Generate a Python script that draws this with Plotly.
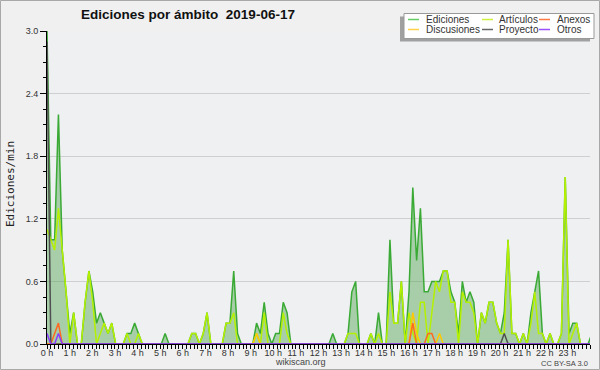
import plotly.graph_objects as go

# ---------------- data (edits per minute, 10-minute bins, 2019-06-17) ----------------
MINUTES = list(range(0, 1440, 10))          # start of each 10-minute bin

EDICIONES = [
    3.0, 1.0, 1.0, 2.2, 0.9, 0.5,   # 0 h
    0.1, 0.3, 0.0, 0.0, 0.4, 0.7,   # 1 h
    0.5, 0.2, 0.3, 0.2, 0.1, 0.2,   # 2 h
    0.0, 0.0, 0.0, 0.1, 0.1, 0.2,   # 3 h
    0.1, 0.0, 0.0, 0.0, 0.0, 0.0,   # 4 h
    0.0, 0.1, 0.0, 0.0, 0.0, 0.0,   # 5 h
    0.0, 0.0, 0.1, 0.1, 0.0, 0.1,   # 6 h
    0.3, 0.0, 0.0, 0.0, 0.0, 0.2,   # 7 h
    0.2, 0.7, 0.1, 0.0, 0.0, 0.0,   # 8 h
    0.0, 0.2, 0.1, 0.4, 0.1, 0.0,   # 9 h
    0.1, 0.1, 0.4, 0.3, 0.0, 0.0,   # 10 h
    0.0, 0.0, 0.0, 0.0, 0.0, 0.0,   # 11 h
    0.0, 0.0, 0.0, 0.1, 0.0, 0.0,   # 12 h
    0.0, 0.1, 0.5, 0.6, 0.0, 0.0,   # 13 h
    0.0, 0.1, 0.0, 0.3, 0.0, 0.0,   # 14 h
    1.0, 0.2, 0.2, 0.6, 0.0, 0.5,   # 15 h
    1.5, 0.8, 1.3, 0.5, 0.5, 0.6,   # 16 h
    0.6, 0.6, 0.7, 0.7, 0.5, 0.4,   # 17 h
    0.1, 0.6, 0.4, 0.5, 0.4, 0.0,   # 18 h
    0.3, 0.2, 0.4, 0.4, 0.2, 0.1,   # 19 h
    0.3, 1.0, 0.1, 0.1, 0.0, 0.1,   # 20 h
    0.0, 0.3, 0.5, 0.7, 0.1, 0.0,   # 21 h
    0.1, 0.0, 0.0, 0.1, 1.6, 0.1,   # 22 h
    0.2, 0.2, 0.0, 0.0, 0.0, 0.1,   # 23 h
]

ARTICULOS = [
    1.1, 1.0, 0.9, 1.3, 0.9, 0.5,
    0.0, 0.3, 0.0, 0.0, 0.4, 0.7,
    0.4, 0.0, 0.1, 0.2, 0.1, 0.2,
    0.0, 0.0, 0.0, 0.1, 0.0, 0.0,
    0.1, 0.0, 0.0, 0.0, 0.0, 0.0,
    0.0, 0.0, 0.0, 0.0, 0.0, 0.0,
    0.0, 0.0, 0.1, 0.1, 0.0, 0.1,
    0.3, 0.0, 0.0, 0.0, 0.0, 0.2,
    0.2, 0.3, 0.0, 0.0, 0.0, 0.0,
    0.0, 0.1, 0.0, 0.3, 0.0, 0.0,
    0.0, 0.0, 0.3, 0.1, 0.0, 0.0,
    0.0, 0.0, 0.0, 0.0, 0.0, 0.0,
    0.0, 0.0, 0.0, 0.0, 0.0, 0.0,
    0.0, 0.1, 0.1, 0.1, 0.0, 0.0,
    0.0, 0.1, 0.0, 0.1, 0.0, 0.0,
    0.5, 0.2, 0.2, 0.6, 0.0, 0.3,
    0.1, 0.0, 0.4, 0.4, 0.0, 0.3,
    0.6, 0.5, 0.7, 0.7, 0.4, 0.4,
    0.0, 0.5, 0.4, 0.4, 0.3, 0.0,
    0.3, 0.2, 0.4, 0.4, 0.2, 0.1,
    0.1, 1.0, 0.1, 0.1, 0.0, 0.1,
    0.0, 0.2, 0.5, 0.1, 0.1, 0.0,
    0.1, 0.0, 0.0, 0.1, 1.6, 0.0,
    0.1, 0.2, 0.0, 0.0, 0.0, 0.0,
]

ANEXOS = [
    0.0, 0.0, 0.1, 0.2, 0.0, 0.0,
    0.0, 0.0, 0.0, 0.0, 0.0, 0.0,
    0.0, 0.0, 0.0, 0.0, 0.0, 0.0,
    0.0, 0.0, 0.0, 0.0, 0.0, 0.0,
    0.0, 0.0, 0.0, 0.0, 0.0, 0.0,
    0.0, 0.0, 0.0, 0.0, 0.0, 0.0,
    0.0, 0.0, 0.0, 0.0, 0.0, 0.0,
    0.0, 0.0, 0.0, 0.0, 0.0, 0.0,
    0.0, 0.0, 0.0, 0.0, 0.0, 0.0,
    0.0, 0.0, 0.0, 0.0, 0.0, 0.0,
    0.0, 0.0, 0.0, 0.0, 0.0, 0.0,
    0.0, 0.0, 0.0, 0.0, 0.0, 0.0,
    0.0, 0.0, 0.0, 0.0, 0.0, 0.0,
    0.0, 0.0, 0.0, 0.0, 0.0, 0.0,
    0.0, 0.0, 0.0, 0.0, 0.0, 0.0,
    0.0, 0.0, 0.0, 0.0, 0.0, 0.0,
    0.2, 0.0, 0.0, 0.0, 0.1, 0.1,
    0.0, 0.0, 0.0, 0.0, 0.0, 0.0,
    0.0, 0.0, 0.0, 0.0, 0.0, 0.0,
    0.0, 0.0, 0.0, 0.0, 0.0, 0.0,
    0.0, 0.0, 0.0, 0.0, 0.0, 0.0,
    0.0, 0.0, 0.0, 0.0, 0.0, 0.0,
    0.0, 0.0, 0.0, 0.0, 0.0, 0.0,
    0.0, 0.0, 0.0, 0.0, 0.0, 0.0,
]

DISCUSIONES = [
    0.0, 0.0, 0.0, 0.0, 0.0, 0.0,
    0.0, 0.0, 0.0, 0.0, 0.0, 0.0,
    0.0, 0.0, 0.0, 0.0, 0.0, 0.0,
    0.0, 0.0, 0.0, 0.0, 0.0, 0.0,
    0.0, 0.0, 0.0, 0.0, 0.0, 0.0,
    0.0, 0.0, 0.0, 0.0, 0.0, 0.0,
    0.0, 0.0, 0.0, 0.0, 0.0, 0.0,
    0.0, 0.0, 0.0, 0.0, 0.0, 0.0,
    0.0, 0.0, 0.0, 0.0, 0.0, 0.0,
    0.0, 0.1, 0.0, 0.0, 0.0, 0.0,
    0.0, 0.0, 0.0, 0.0, 0.0, 0.0,
    0.0, 0.0, 0.0, 0.0, 0.0, 0.0,
    0.0, 0.0, 0.0, 0.0, 0.0, 0.0,
    0.0, 0.0, 0.0, 0.0, 0.0, 0.0,
    0.0, 0.0, 0.0, 0.0, 0.0, 0.0,
    0.0, 0.0, 0.0, 0.0, 0.0, 0.0,
    0.3, 0.1, 0.0, 0.0, 0.0, 0.0,
    0.0, 0.1, 0.0, 0.0, 0.0, 0.0,
    0.0, 0.0, 0.0, 0.0, 0.0, 0.0,
    0.0, 0.0, 0.0, 0.0, 0.0, 0.0,
    0.0, 0.0, 0.0, 0.0, 0.0, 0.0,
    0.0, 0.0, 0.0, 0.0, 0.0, 0.0,
    0.0, 0.0, 0.0, 0.0, 0.0, 0.0,
    0.0, 0.0, 0.0, 0.0, 0.0, 0.0,
]

PROYECTO = [
    2.9, 0.0, 0.0, 0.0, 0.0, 0.0,
    0.0, 0.0, 0.0, 0.0, 0.0, 0.0,
    0.0, 0.0, 0.0, 0.0, 0.0, 0.0,
    0.0, 0.0, 0.0, 0.0, 0.0, 0.0,
    0.0, 0.0, 0.0, 0.0, 0.0, 0.0,
    0.0, 0.0, 0.0, 0.0, 0.0, 0.0,
    0.0, 0.0, 0.0, 0.0, 0.0, 0.0,
    0.0, 0.0, 0.0, 0.0, 0.0, 0.0,
    0.0, 0.0, 0.0, 0.0, 0.0, 0.0,
    0.0, 0.0, 0.0, 0.0, 0.0, 0.0,
    0.0, 0.0, 0.0, 0.0, 0.0, 0.0,
    0.0, 0.0, 0.0, 0.0, 0.0, 0.0,
    0.0, 0.0, 0.0, 0.0, 0.0, 0.0,
    0.0, 0.0, 0.0, 0.0, 0.0, 0.0,
    0.0, 0.0, 0.0, 0.0, 0.0, 0.0,
    0.0, 0.0, 0.0, 0.0, 0.0, 0.0,
    0.0, 0.0, 0.0, 0.0, 0.0, 0.0,
    0.0, 0.0, 0.0, 0.0, 0.0, 0.0,
    0.0, 0.0, 0.0, 0.0, 0.0, 0.0,
    0.0, 0.0, 0.0, 0.0, 0.0, 0.0,
    0.1, 0.0, 0.0, 0.0, 0.0, 0.0,
    0.0, 0.0, 0.0, 0.0, 0.0, 0.0,
    0.0, 0.0, 0.0, 0.0, 0.0, 0.0,
    0.0, 0.0, 0.0, 0.0, 0.0, 0.0,
]

OTROS = [
    0.1, 0.0, 0.0, 0.1, 0.0, 0.0,
    0.0, 0.0, 0.0, 0.0, 0.0, 0.0,
    0.0, 0.0, 0.0, 0.0, 0.0, 0.0,
    0.0, 0.0, 0.0, 0.0, 0.0, 0.0,
    0.0, 0.0, 0.0, 0.0, 0.0, 0.0,
    0.0, 0.0, 0.0, 0.0, 0.0, 0.0,
    0.0, 0.0, 0.0, 0.0, 0.0, 0.0,
    0.0, 0.0, 0.0, 0.0, 0.0, 0.0,
    0.0, 0.0, 0.0, 0.0, 0.0, 0.0,
    0.0, 0.0, 0.0, 0.0, 0.0, 0.0,
    0.0, 0.0, 0.0, 0.0, 0.0, 0.0,
    0.0, 0.0, 0.0, 0.0, 0.0, 0.0,
    0.0, 0.0, 0.0, 0.0, 0.0, 0.0,
    0.0, 0.0, 0.0, 0.0, 0.0, 0.0,
    0.0, 0.0, 0.0, 0.0, 0.0, 0.0,
    0.0, 0.0, 0.0, 0.0, 0.0, 0.0,
    0.0, 0.0, 0.0, 0.0, 0.0, 0.0,
    0.0, 0.0, 0.0, 0.0, 0.0, 0.0,
    0.0, 0.0, 0.0, 0.0, 0.0, 0.0,
    0.0, 0.0, 0.0, 0.0, 0.0, 0.0,
    0.0, 0.0, 0.0, 0.0, 0.0, 0.0,
    0.0, 0.0, 0.0, 0.0, 0.0, 0.0,
    0.0, 0.0, 0.0, 0.0, 0.0, 0.0,
    0.0, 0.0, 0.0, 0.0, 0.0, 0.0,
]

HOUR_TICKS = [0, 60, 120, 180, 240, 300, 360, 420, 480, 540, 600, 660,
              720, 780, 840, 900, 960, 1020, 1080, 1140, 1200, 1260, 1320, 1380]
HOUR_LABELS = ["0 h", "1 h", "2 h", "3 h", "4 h", "5 h", "6 h", "7 h", "8 h", "9 h",
               "10 h", "11 h", "12 h", "13 h", "14 h", "15 h", "16 h", "17 h",
               "18 h", "19 h", "20 h", "21 h", "22 h", "23 h"]
Y_TICKS = [0.0, 0.6, 1.2, 1.8, 2.4, 3.0]

SERIES = [  # name, values, colour (drawing order)
    ("Ediciones", EDICIONES, "#3aaa35"),
    ("Artículos", ARTICULOS, "#b4f000"),
    ("Discusiones", DISCUSIONES, "#ffc800"),
    ("Anexos", ANEXOS, "#ff6a20"),
    ("Proyecto", PROYECTO, "#505050"),
    ("Otros", OTROS, "#8a3cff"),
]
LEGEND_ROWS = [["Ediciones", "Artículos", "Anexos"],
               ["Discusiones", "Proyecto", "Otros"]]
LEGEND_SWATCH = {"Ediciones": "#66cc66", "Artículos": "#ccf03c", "Anexos": "#ff7a45",
                 "Discusiones": "#ffd24a", "Proyecto": "#666666", "Otros": "#9a50ff"}

# ---------------- layout geometry ----------------
W, H = 600, 370
L, R, T, B = 47, 10, 31, 26
PW, PH = W - L - R, H - T - B


def px(x):
    return (x - L) / PW


def py(y):
    return (H - B - y) / PH


FONT = "Liberation Sans, Arial, sans-serif"

fig = go.Figure()
for name, vals, col in SERIES:
    kw = {}
    if name == "Ediciones":
        kw = dict(fill="tozeroy", fillcolor="rgba(70,160,70,0.42)")
    fig.add_trace(go.Scatter(x=MINUTES, y=vals, mode="lines", name=name,
                             line=dict(color=col, width=1.5), showlegend=False,
                             hoverinfo="skip", **kw))
# helper trace for the labelled time axis
fig.add_trace(go.Scatter(x=[], y=[], xaxis="x2", showlegend=False, hoverinfo="skip"))

shapes = [
    # outer frame
    dict(type="rect", xref="paper", yref="paper", x0=px(0.5), x1=px(599.5),
         y0=py(369.5), y1=py(0.5), line=dict(color="#a8a8a8", width=1), layer="below"),
    # legend shadow + box
    dict(type="rect", xref="paper", yref="paper", x0=px(400), x1=px(590),
         y0=py(41.5), y1=py(16.5), fillcolor="#a0a0a0", line=dict(width=0)),
    dict(type="rect", xref="paper", yref="paper", x0=px(404), x1=px(594),
         y0=py(38.5), y1=py(13.5), fillcolor="white", line=dict(color="#999999", width=1)),
]
annotations = []
col_x = [(408, 424), (482, 497), (539, 555)]
row_y = [19.5, 29.5]
for r, row in enumerate(LEGEND_ROWS):
    for c, name in enumerate(row):
        sx, tx = col_x[c]
        yy = row_y[r]
        shapes.append(dict(type="line", xref="paper", yref="paper", x0=px(sx), x1=px(sx + 11),
                           y0=py(yy), y1=py(yy), line=dict(color=LEGEND_SWATCH[name], width=1.5)))
        annotations.append(dict(text=name, xref="paper", yref="paper", x=px(tx), y=py(yy),
                                xanchor="left", yanchor="middle", showarrow=False,
                                font=dict(family=FONT, size=10, color="#333333")))

annotations += [
    dict(text="Ediciones/min", xref="paper", yref="paper", x=px(10), y=py(184),
         textangle=-90, showarrow=False, xanchor="center", yanchor="middle",
         font=dict(family="DejaVu Sans Mono, monospace", size=11, color="#222222")),
    dict(text="wikiscan.org", xref="paper", yref="paper", x=px(300), y=py(362),
         showarrow=False, xanchor="center", yanchor="middle",
         font=dict(family=FONT, size=9, color="#444444")),
    dict(text="CC BY-SA 3.0", xref="paper", yref="paper", x=px(590), y=py(363),
         showarrow=False, xanchor="right", yanchor="middle",
         font=dict(family=FONT, size=7.5, color="#444444")),
]

fig.update_layout(
    width=W, height=H,
    margin=dict(l=L, r=R, t=T, b=B, pad=0),
    paper_bgcolor="#f0f0f0",
    plot_bgcolor="#eef0f2",
    title=dict(text="<b>Ediciones por ámbito \u00a02019-06-17</b>", xref="paper", x=px(188),
               xanchor="center", yref="container", y=1 - 14 / H, yanchor="middle",
               font=dict(family=FONT, size=13.5, color="#111111")),
    xaxis=dict(range=[0, 1425], visible=False, fixedrange=True),
    xaxis2=dict(overlaying="x", side="bottom", range=[0, 1440], tickmode="array",
                tickvals=HOUR_TICKS, ticktext=HOUR_LABELS, ticks="outside", ticklen=4,
                tickcolor="black", tickwidth=1, showgrid=False, zeroline=False,
                showline=True, linecolor="black", linewidth=1, ticklabelstandoff=-4,
                minor=dict(tickmode="linear", tick0=0, dtick=10, ticks="outside",
                           ticklen=4, tickcolor="black", tickwidth=1),
                tickfont=dict(family=FONT, size=9, color="#333333")),
    yaxis=dict(range=[0, 3], tickmode="array", tickvals=Y_TICKS, tickformat=".1f",
               ticks="outside", ticklen=6, tickcolor="black", showline=True,
               linecolor="black", linewidth=1, gridcolor="#cfcfcf", gridwidth=1,
               zeroline=False,
               minor=dict(tickmode="linear", tick0=0, dtick=0.15, ticks="outside",
                          ticklen=3, tickcolor="black", showgrid=False),
               tickfont=dict(family=FONT, size=9, color="#333333")),
    shapes=shapes,
    annotations=annotations,
    showlegend=False,
)

fig.write_html("out.html", config={"displayModeBar": False},
               post_script="document.body.style.margin='0';")
